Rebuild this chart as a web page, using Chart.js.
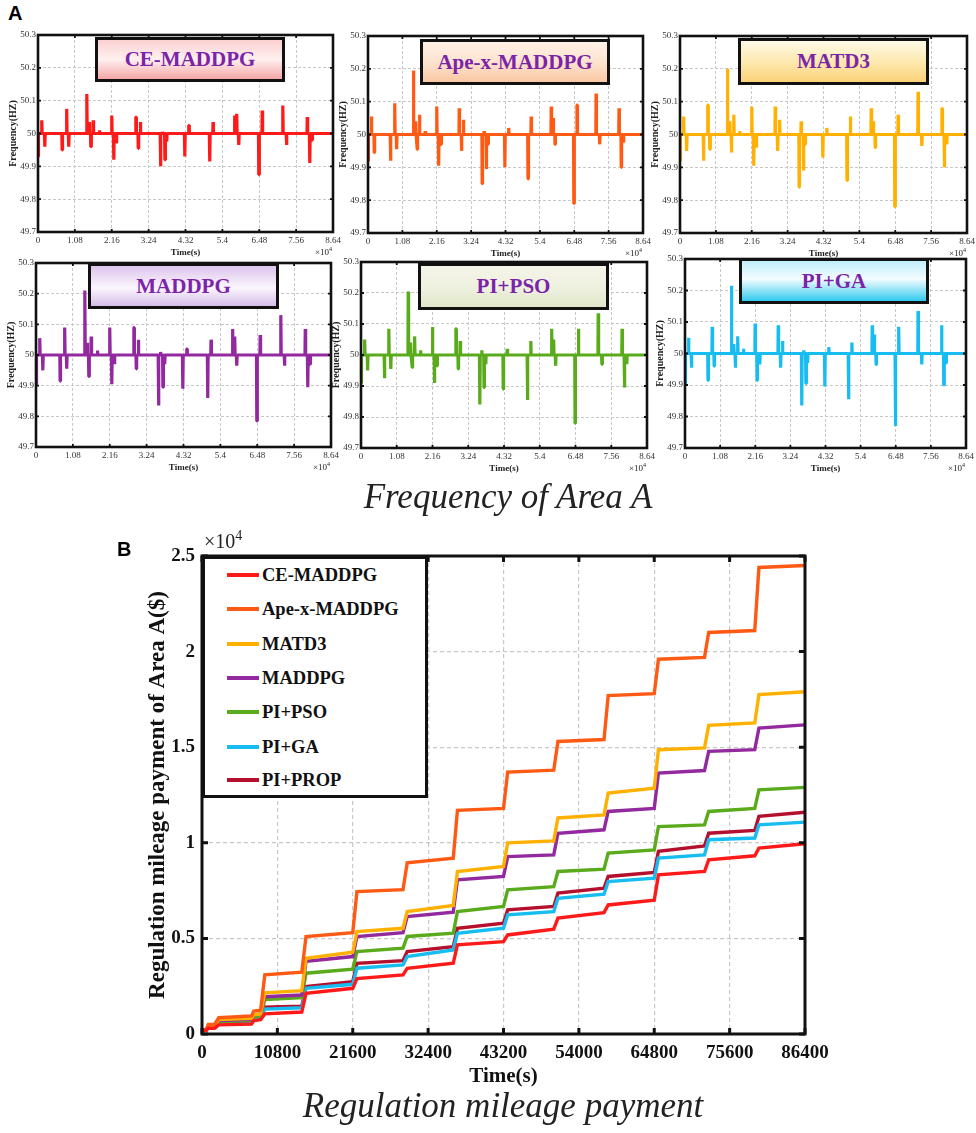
<!DOCTYPE html>
<html><head><meta charset="utf-8">
<script src="https://cdn.jsdelivr.net/npm/chart.js@4.4.1/dist/chart.umd.min.js"></script>
<style>
html,body{margin:0;padding:0;background:#fff;}
#wrap{position:relative;width:976px;height:1133px;overflow:hidden;background:#fff;}
canvas{position:absolute;}
.tbox{position:absolute;border:3px solid #111;box-sizing:border-box;display:flex;align-items:center;justify-content:center;font:bold 21px "Liberation Serif",serif;color:#7b24a8;}
.x4{position:absolute;font:9px "Liberation Serif",serif;color:#222;white-space:nowrap;}
.x4 sup{font-size:6px;}
.cap{position:absolute;width:976px;text-align:center;font:italic 35px/35px "Liberation Serif",serif;color:#222;white-space:nowrap;}
.lab{position:absolute;font:bold 20px "Liberation Sans",sans-serif;color:#000;}
#legend{position:absolute;left:202px;top:556px;width:226px;height:242px;border:3px solid #111;box-sizing:border-box;background:#fff;}
.lrow{position:absolute;left:22px;height:24px;display:flex;align-items:center;font:bold 18.5px "Liberation Serif",serif;color:#111;white-space:nowrap;}
.lrow i{display:inline-block;width:32px;height:3.5px;margin-right:3px;}
#bx4{position:absolute;left:204px;top:528px;font:20px "Liberation Serif",serif;color:#222;}
#bx4 sup{font-size:14px;}
</style></head><body><div id="wrap"></div>
<script>
// ---------- data ----------
const seriesNames = ["CE-MADDPG","Ape-x-MADDPG","MATD3","MADDPG","PI+PSO","PI+GA","PI+PROP"];
const seriesColors = ["#ff1a1a","#ff5a14","#ffb000","#93299e","#5aab1c","#17bdf0","#b4102e"];

const timeTicks = [0,10800,21600,32400,43200,54000,64800,75600,86400];
const freqTicks = [49.7,49.8,49.9,50,50.1,50.2,50.3];
const payTicks = [0,0.5,1,1.5,2,2.5];

// frequency disturbance events (s) and the frequency (Hz) reached at each event
const freqTimes = [0,1100,2000,7100,8400,9000,14300,15000,15500,16200,18000,21600,22200,23000,28700,29400,30000,35900,36500,37200,37700,43000,44200,50300,51300,57600,58200,58800,64700,65700,71700,72800,78900,79600,80300];
const freqCE    = [49.93,50.04,49.96,49.95,50.075,49.96,50.12,50.035,49.96,50.04,50.01,50.055,49.92,49.97,50.05,49.955,50.035,49.90,50.005,49.92,49.975,49.93,50.025,49.915,50.035,50.055,50.06,49.965,49.875,50.07,50.085,49.965,50.05,49.91,49.98];
const freqApex  = [49.92,50.055,49.945,49.92,50.095,49.955,50.195,50.04,49.955,50.06,50.01,50.085,49.905,49.97,50.08,49.95,50.045,49.85,50.01,49.895,49.97,49.9,50.02,49.865,50.055,50.085,50.05,49.97,49.79,50.09,50.125,49.97,50.08,49.9,49.975];
const freqMATD3 = [49.92,50.055,49.95,49.92,50.09,49.955,50.2,50.04,49.945,50.06,50.01,50.085,49.905,49.96,50.085,49.95,50.045,49.84,50.04,49.89,49.97,49.93,50.02,49.86,50.055,50.08,50.04,49.96,49.78,50.06,50.13,49.965,50.08,49.9,49.97];
const freqMADDPG= [49.905,50.055,49.95,49.915,50.09,49.955,50.21,50.04,49.93,50.06,50.015,50.09,49.905,49.97,50.09,49.955,50.05,49.835,50.01,49.895,49.97,49.89,50.02,49.86,50.05,50.085,50.06,49.965,49.785,50.065,50.13,49.965,50.085,49.895,49.97];
const freqPSO   = [49.91,50.05,49.95,49.925,50.085,49.955,50.205,50.04,49.96,50.06,50.015,50.09,49.91,49.965,50.085,49.955,50.045,49.84,50.015,49.895,49.97,49.89,50.02,49.855,50.045,50.085,50.05,49.965,49.78,50.085,50.135,49.97,50.085,49.895,49.97];
const freqGA    = [49.905,50.05,49.955,49.915,50.085,49.96,50.215,50.03,49.955,50.055,50.015,50.095,49.915,49.965,50.09,49.955,50.04,49.835,50.01,49.905,49.97,49.895,50.02,49.855,50.035,50.09,50.06,49.965,49.77,50.085,50.135,49.965,50.09,49.9,49.97];
const freqSeries = [freqCE,freqApex,freqMATD3,freqMADDPG,freqPSO,freqGA];

// regulation mileage payment (x10^4 $): step times, value right after each step, value at end of each plateau
const payTimes   = [0,600,1800,7100,8400,14300,21600,28800,36000,43200,50400,57600,64800,72000,79200];
const ceStart    = [0.02,0.03,0.048,0.07,0.105,0.213,0.29,0.344,0.466,0.518,0.606,0.675,0.832,0.911,0.972];
const ceEnd      = [0.02,0.03,0.052,0.075,0.115,0.239,0.309,0.37,0.483,0.548,0.635,0.70,0.85,0.932,0.995];
const apexStart  = [0.02,0.05,0.085,0.12,0.31,0.51,0.745,0.895,1.17,1.37,1.53,1.77,1.96,2.10,2.44];
const apexEnd    = [0.02,0.05,0.095,0.125,0.323,0.53,0.755,0.92,1.18,1.38,1.54,1.78,1.97,2.11,2.45];
const matd3Start = [0.02,0.045,0.075,0.10,0.215,0.396,0.536,0.64,0.85,1.0,1.13,1.26,1.487,1.614,1.775];
const matd3End   = [0.02,0.045,0.082,0.105,0.227,0.428,0.553,0.672,0.876,1.01,1.146,1.286,1.496,1.627,1.79];
const maddpgStart= [0.02,0.045,0.07,0.10,0.195,0.38,0.51,0.614,0.806,0.928,1.05,1.164,1.365,1.478,1.60];
const maddpgEnd  = [0.02,0.045,0.077,0.105,0.204,0.405,0.53,0.637,0.824,0.937,1.068,1.18,1.378,1.487,1.617];
const psoStart   = [0.02,0.04,0.065,0.09,0.18,0.318,0.431,0.51,0.64,0.754,0.85,0.946,1.085,1.164,1.277];
const psoEnd     = [0.02,0.04,0.07,0.095,0.19,0.339,0.449,0.527,0.667,0.771,0.862,0.963,1.094,1.18,1.29];
const gaStart    = [0.02,0.035,0.052,0.075,0.13,0.239,0.344,0.405,0.527,0.623,0.71,0.797,0.92,1.016,1.094];
const gaEnd      = [0.02,0.035,0.057,0.08,0.137,0.26,0.361,0.44,0.553,0.64,0.731,0.815,0.937,1.025,1.108];
const propStart  = [0.02,0.035,0.055,0.08,0.14,0.248,0.37,0.431,0.553,0.649,0.737,0.824,0.955,1.05,1.138];
const propEnd    = [0.02,0.035,0.06,0.085,0.146,0.274,0.384,0.457,0.58,0.667,0.763,0.845,0.984,1.065,1.16];
const payStarts = [ceStart,apexStart,matd3Start,maddpgStart,psoStart,gaStart,propStart];
const payEnds   = [ceEnd,apexEnd,matd3End,maddpgEnd,psoEnd,gaEnd,propEnd];

// ---------- layout (page pixels) ----------
const panelRects = [
  {l:38,t:35,w:295,h:197},{l:368,t:36,w:275,h:197},{l:680,t:36,w:287,h:197},
  {l:36,t:263,w:295,h:184},{l:361,t:262,w:286,h:186},{l:685,t:259,w:281,h:189}];
const boxRects = [
  {l:95,t:37,w:190,h:45},{l:420,t:39,w:190,h:46},{l:738,t:38,w:191,h:47},
  {l:88,t:263,w:191,h:46},{l:418,t:263,w:191,h:47},{l:739,t:258,w:190,h:46}];
const boxFills = [
  "linear-gradient(#fbd0d0,#fff0f0 50%,#f5a6a6)",
  "linear-gradient(#fff1e6,#fde3cf 50%,#f9c7a2)",
  "linear-gradient(#fffbe8,#fde9b0 50%,#fbd278)",
  "linear-gradient(#dcc4ec,#fbf6fd 55%,#d6bce8)",
  "linear-gradient(#f4f4e8,#eff1e0 50%,#e0e7ca)",
  "linear-gradient(#bfeffc,#f4fdff 45%,#31c9ef)"];

const SERIF = '"Liberation Serif","Times New Roman",serif';
const wrap = document.getElementById('wrap');

function makeCanvas(l,t,w,h){
  const c=document.createElement('canvas');
  c.width=w;c.height=h;c.style.left=l+'px';c.style.top=t+'px';c.style.width=w+'px';c.style.height=h+'px';
  wrap.appendChild(c);return c;
}
function addDiv(cls,html,style){const d=document.createElement('div');d.className=cls;d.innerHTML=html;Object.assign(d.style,style||{});wrap.appendChild(d);return d;}

const framePlugin={id:'frame',afterDraw(chart,args,o){
  const {ctx,chartArea:a}=chart;const x=chart.scales.x,y=chart.scales.y;
  ctx.save();ctx.strokeStyle='#111';ctx.lineWidth=o.tw;ctx.beginPath();
  x.ticks.forEach(t=>{const p=x.getPixelForValue(t.value);ctx.moveTo(p,a.top);ctx.lineTo(p,a.top+o.tl);ctx.moveTo(p,a.bottom);ctx.lineTo(p,a.bottom-o.tl);});
  y.ticks.forEach(t=>{const p=y.getPixelForValue(t.value);ctx.moveTo(a.left,p);ctx.lineTo(a.left+o.tl,p);ctx.moveTo(a.right,p);ctx.lineTo(a.right-o.tl,p);});
  ctx.stroke();ctx.lineWidth=o.lw;ctx.strokeRect(a.left,a.top,a.right-a.left,a.bottom-a.top);ctx.restore();}};

function spikes(vals){
  const pts=[{x:0,y:vals[0]},{x:150,y:50}];
  for(let i=1;i<freqTimes.length;i++){const t=freqTimes[i];pts.push({x:t-120,y:50},{x:t-40,y:vals[i]},{x:t+40,y:vals[i]},{x:t+120,y:50});}
  pts.push({x:86400,y:50});return pts;
}
function steps(start,end){
  const pts=[];
  for(let i=0;i<payTimes.length;i++){
    const t=payTimes[i];const tn=i+1<payTimes.length?payTimes[i+1]:86400;
    if(i===0){pts.push({x:0,y:start[0]});}
    else{pts.push({x:t,y:end[i-1]});pts.push({x:t+Math.min(600,(tn-t)/4),y:start[i]});}
    pts.push({x:tn,y:end[i]});
  }
  return pts;
}

// ---------- panel A ----------
const padL=38,padT=8,padR=16,padB=34;
panelRects.forEach((r,i)=>{
  const cv=makeCanvas(r.l-padL,r.t-padT,r.w+padL+padR,r.h+padT+padB);
  new Chart(cv,{type:'line',
    data:{datasets:[{label:seriesNames[i],data:spikes(freqSeries[i]),borderColor:seriesColors[i],borderWidth:3.2,pointRadius:0,tension:0,fill:false,borderJoinStyle:'bevel'}]},
    options:{responsive:false,animation:false,events:[],
      layout:{autoPadding:false,padding:{left:0,top:padT,right:padR,bottom:0}},
      plugins:{legend:{display:false},tooltip:{enabled:false},frame:{lw:2.6,tw:1.8,tl:3}},
      scales:{
        x:{type:'linear',min:0,max:86400,
          afterBuildTicks:s=>{s.ticks=timeTicks.map(v=>({value:v}));},afterFit:s=>{s.height=padB;},
          ticks:{autoSkip:false,maxRotation:0,padding:3,color:'#333',font:{family:SERIF,size:9},callback:v=>String(+(v/1e4).toFixed(2))},
          grid:{color:'#c8c8c8',lineWidth:1,drawTicks:false},border:{display:false,dash:[3,2]},
          title:{display:true,text:'Time(s)',color:'#222',font:{family:SERIF,size:9,weight:'bold'},padding:{top:0,bottom:8}}},
        y:{type:'linear',min:49.7,max:50.3,
          afterBuildTicks:s=>{s.ticks=freqTicks.map(v=>({value:v}));},afterFit:s=>{s.width=padL;},
          ticks:{autoSkip:false,padding:2,color:'#333',font:{family:SERIF,size:9},callback:v=>String(Math.round(v*10)/10)},
          grid:{color:'#c8c8c8',lineWidth:1,drawTicks:false},border:{display:false,dash:[3,2]},
          title:{display:true,text:'Frequency(HZ)',color:'#222',font:{family:SERIF,size:10,weight:'bold'},padding:{top:7,bottom:0}}}
      }},
    plugins:[framePlugin]});
  const b=boxRects[i];
  addDiv('tbox',seriesNames[i],{left:b.l+'px',top:b.t+'px',width:b.w+'px',height:b.h+'px',background:boxFills[i]});
  addDiv('x4','&times;10<sup>4</sup>',{left:(r.l+r.w-18)+'px',top:(r.t+r.h+14)+'px'});
});
addDiv('lab','A',{left:'8px',top:'2px'});
addDiv('cap','Frequency of Area A',{left:'20px',top:'479px'});

// ---------- panel B ----------
const bcv=makeCanvas(0,530,976,603);
new Chart(bcv,{type:'line',
  data:{datasets:seriesNames.map((n,i)=>({label:n,data:steps(payStarts[i],payEnds[i]),borderColor:seriesColors[i],borderWidth:3.4,pointRadius:0,tension:0,fill:false}))},
  options:{responsive:false,animation:false,events:[],
    layout:{autoPadding:false,padding:{left:140,top:26,right:171,bottom:0}},
    plugins:{legend:{display:false},tooltip:{enabled:false},frame:{lw:3,tw:3,tl:6}},
    scales:{
      x:{type:'linear',min:0,max:86400,
        afterBuildTicks:s=>{s.ticks=timeTicks.map(v=>({value:v}));},afterFit:s=>{s.height=99;},
        ticks:{autoSkip:false,maxRotation:0,padding:8,color:'#111',font:{family:SERIF,size:19,weight:'bold'},callback:v=>String(v)},
        grid:{color:'#c8c8c8',lineWidth:1.2,drawTicks:false},border:{display:false,dash:[4,3]},
        title:{display:true,text:'Time(s)',color:'#111',font:{family:SERIF,size:21,weight:'bold'},padding:{top:0,bottom:44}}},
      y:{type:'linear',min:0,max:2.5,
        afterBuildTicks:s=>{s.ticks=payTicks.map(v=>({value:v}));},afterFit:s=>{s.width=62;},
        ticks:{autoSkip:false,padding:7,color:'#111',font:{family:SERIF,size:19,weight:'bold'},callback:v=>String(v)},
        grid:{color:'#c8c8c8',lineWidth:1.2,drawTicks:false},border:{display:false,dash:[4,3]},
        title:{display:true,text:'Regulation mileage payment of Area A($)',color:'#111',font:{family:SERIF,size:23,weight:'bold'},padding:{top:4,bottom:0}}}
    }},
  plugins:[framePlugin]});

const leg=addDiv('','',{});leg.id='legend';
const rowCenters=[16,50,85,119,153,188,221];
seriesNames.forEach((n,i)=>{
  const r=document.createElement('div');r.className='lrow';r.style.top=(rowCenters[i]-12)+'px';
  r.innerHTML='<i style="background:'+seriesColors[i]+'"></i>'+n;leg.appendChild(r);
});
const bx=addDiv('','&times;10<sup>4</sup>',{});bx.id='bx4';
addDiv('lab','B',{left:'117px',top:'538px'});
addDiv('cap','Regulation mileage payment',{left:'15px',top:'1088px'});
</script>
</body></html>
